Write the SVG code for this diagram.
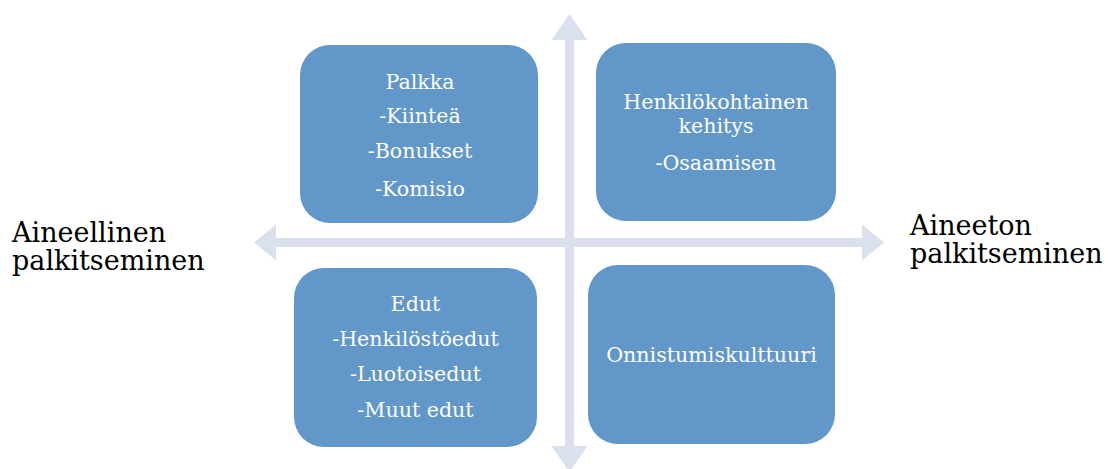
<svg xmlns="http://www.w3.org/2000/svg" width="1108" height="469" viewBox="0 0 1108 469">
  <style>
    .box { fill: #6197C9; }
    .arrow { fill: #DAE0EE; }
    .lbl { font-family: "DejaVu Serif", "Liberation Serif", serif; fill: #FFFFFF; text-anchor: middle; font-size: 20.6px; }
    .axis { font-family: "DejaVu Serif", "Liberation Serif", serif; fill: #000000; font-size: 27px; }
  </style>
  <rect width="1108" height="469" fill="#FFFFFF"/>

  <!-- axes: double-headed arrows -->
  <g id="connectors">
    <polygon class="arrow" points="254,242.5 276,224.5 276,238 862,238 862,224.5 884,242.5 862,260.5 862,247 276,247 276,260.5"/>
    <polygon class="arrow" points="569.5,14 587.5,40 574,40 574,446 587.5,446 569.5,472 551.5,446 565,446 565,40 551.5,40"/>
  </g>

  <g id="node-palkka">
    <rect class="box" x="300" y="45" width="238" height="178" rx="30" ry="30"/>
    <text class="lbl" font-size="21" x="420" y="89">Palkka</text>
    <text class="lbl" font-size="21" x="420" y="123">-Kiinteä</text>
    <text class="lbl" font-size="21" x="420" y="158">-Bonukset</text>
    <text class="lbl" font-size="21" x="420" y="196">-Komisio</text>
  </g>

  <g id="node-kehitys">
    <rect class="box" x="596" y="43" width="240" height="178" rx="30" ry="30"/>
    <text class="lbl" x="716" y="109">Henkilökohtainen</text>
    <text class="lbl" x="716" y="133">kehitys</text>
    <text class="lbl" x="716" y="170">-Osaamisen</text>
  </g>

  <g id="node-edut">
    <rect class="box" x="294" y="268" width="243" height="179" rx="30" ry="30"/>
    <text class="lbl" x="415.5" y="311">Edut</text>
    <text class="lbl" x="415.5" y="346">-Henkilöstöedut</text>
    <text class="lbl" x="415.5" y="381">-Luotoisedut</text>
    <text class="lbl" x="415.5" y="417">-Muut edut</text>
  </g>

  <g id="node-onnistumiskulttuuri">
    <rect class="box" x="588" y="265" width="247" height="179" rx="30" ry="30"/>
    <text class="lbl" x="711.5" y="362">Onnistumiskulttuuri</text>
  </g>

  <g id="label-aineellinen">
    <text class="axis" x="12" y="242">Aineellinen</text>
    <text class="axis" x="12" y="270">palkitseminen</text>
  </g>

  <g id="label-aineeton">
    <text class="axis" x="910" y="235">Aineeton</text>
    <text class="axis" x="910" y="263">palkitseminen</text>
  </g>
</svg>
